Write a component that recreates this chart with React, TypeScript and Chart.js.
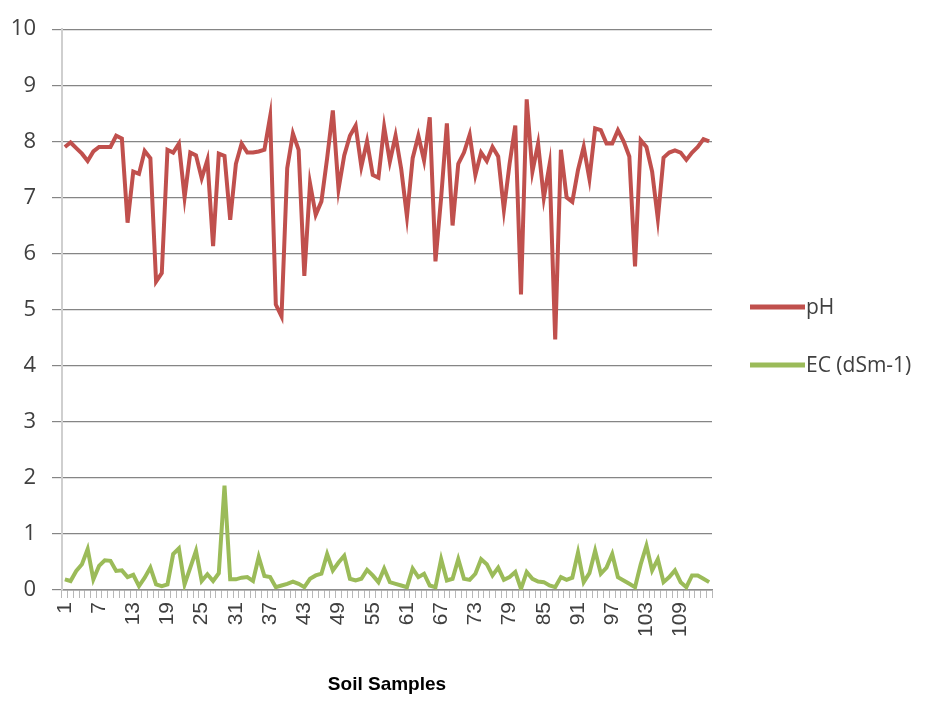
import React, { useEffect, useRef } from "react";
import { Chart, registerables } from "chart.js";

Chart.register(...registerables);

const categories: string[] = Array.from({ length: 114 }, (_, i) => String(i + 1));
const tickEvery = 6;

const phValues: number[] = [
  7.9, 7.98, 7.88, 7.78, 7.65, 7.82, 7.9, 7.9, 7.9, 8.1,
  8.05, 6.55, 7.46, 7.42, 7.83, 7.7, 5.5, 5.65, 7.85, 7.8,
  7.96, 7.0, 7.8, 7.75, 7.34, 7.67, 6.13, 7.78, 7.74, 6.6,
  7.6, 7.96, 7.8, 7.8, 7.82, 7.85, 8.44, 5.09, 4.88, 7.52,
  8.14, 7.85, 5.6, 7.25, 6.69, 6.93, 7.7, 8.55, 7.15, 7.75,
  8.1, 8.28, 7.55, 8.0, 7.4, 7.35, 8.26, 7.64, 8.1, 7.5,
  6.66, 7.7, 8.1, 7.66, 8.43, 5.86, 7.0, 8.32, 6.5, 7.6,
  7.8, 8.12, 7.4, 7.8, 7.65, 7.9, 7.73, 6.78, 7.6, 8.28,
  5.27, 8.75, 7.46, 7.96, 6.99, 7.58, 4.47, 7.85, 7.0, 6.92,
  7.49, 7.9, 7.33, 8.23, 8.2, 7.96, 7.96, 8.2, 8.0, 7.73,
  5.77, 8.02, 7.9, 7.46, 6.62, 7.71, 7.8, 7.84, 7.8, 7.67,
  7.8, 7.9, 8.04, 8.0,
];

const ecValues: number[] = [
  0.19, 0.16, 0.34, 0.46, 0.73, 0.19, 0.43, 0.53, 0.52, 0.34,
  0.35, 0.23, 0.27, 0.07, 0.22, 0.4, 0.1, 0.07, 0.1, 0.64,
  0.74, 0.1, 0.4, 0.7, 0.16, 0.28, 0.16, 0.3, 1.86, 0.19,
  0.19, 0.22, 0.23, 0.16, 0.59, 0.25, 0.23, 0.05, 0.08, 0.11,
  0.15, 0.11, 0.05, 0.2, 0.26, 0.29, 0.64, 0.35, 0.49, 0.61,
  0.2, 0.17, 0.2, 0.36, 0.26, 0.14, 0.38, 0.14, 0.11, 0.08,
  0.05, 0.38, 0.23, 0.29, 0.08, 0.05, 0.55, 0.17, 0.2, 0.55,
  0.2, 0.18, 0.29, 0.55, 0.46, 0.26, 0.4, 0.18, 0.23, 0.32,
  0.02, 0.32, 0.2, 0.15, 0.14, 0.08, 0.05, 0.23, 0.18, 0.22,
  0.67, 0.14, 0.3, 0.7, 0.29, 0.4, 0.64, 0.23, 0.17, 0.11,
  0.05, 0.46, 0.79, 0.35, 0.55, 0.14, 0.23, 0.35, 0.14, 0.05,
  0.26, 0.26, 0.2, 0.14,
];

const seriesLabels = ["pH", "EC (dSm-1)"];
const seriesColors = ["#C0504D", "#9BBB59"];
const xTitle = "Soil Samples";

const legendPlugin = {
  id: "sideLegend",
  afterDraw(chart: any) {
    const ctx = chart.ctx;
    const ys = [307, 365];
    ctx.save();
    chart.data.datasets.forEach((ds: any, i: number) => {
      const y = ys[i];
      ctx.strokeStyle = ds.borderColor;
      ctx.lineWidth = 5;
      ctx.lineCap = "butt";
      ctx.beginPath();
      ctx.moveTo(750, y);
      ctx.lineTo(805, y);
      ctx.stroke();
      ctx.fillStyle = "#404040";
      ctx.font = "21px 'Open Sans'";
      ctx.textAlign = "left";
      ctx.textBaseline = "middle";
      ctx.fillText(ds.label, 806, y + 1);
    });
    ctx.restore();
  },
};

export default function App() {
  const canvasRef = useRef<HTMLCanvasElement | null>(null);

  useEffect(() => {
    document.body.style.margin = "0";
    const canvas = canvasRef.current;
    if (!canvas) return;
    const chart = new Chart(canvas, {
      type: "line",
      data: {
        labels: categories,
        datasets: [
          {
            label: seriesLabels[0],
            data: phValues,
            borderColor: seriesColors[0],
            backgroundColor: seriesColors[0],
            borderWidth: 4,
            pointRadius: 0,
            tension: 0,
          },
          {
            label: seriesLabels[1],
            data: ecValues,
            borderColor: seriesColors[1],
            backgroundColor: seriesColors[1],
            borderWidth: 4,
            pointRadius: 0,
            tension: 0,
          },
        ],
      },
      options: {
        responsive: false,
        animation: false,
        layout: { padding: { left: 0, right: 218, top: 27, bottom: 0 } },
        plugins: {
          legend: { display: false },
          tooltip: { enabled: false },
        },
        scales: {
          x: {
            type: "category",
            offset: true,
            grid: {
              offset: true,
              drawOnChartArea: false,
              drawTicks: true,
              tickLength: 8,
              color: "#b8b8b8",
              lineWidth: 1,
            },
            border: { display: true, color: "#8c8c8c", width: 1.5 },
            ticks: {
              autoSkip: false,
              maxRotation: 90,
              minRotation: 90,
              padding: 4,
              color: "#404040",
              font: { family: "'Liberation Sans'", size: 21 },
              callback: (_v: any, idx: number) =>
                idx % tickEvery === 0 ? categories[idx] : "",
            },
            title: {
              display: true,
              text: xTitle,
              color: "#000000",
              font: { family: "'Liberation Sans'", size: 19, weight: "bold" },
              padding: { top: 4, bottom: 26 },
            },
            afterFit: (scale: any) => {
              scale.height = 132;
            },
          },
          y: {
            min: 0,
            max: 10,
            ticks: {
              stepSize: 1,
              padding: 16,
              color: "#404040",
              font: { family: "'Open Sans'", size: 22 },
            },
            grid: {
              color: "#858585",
              lineWidth: 1.2,
              drawTicks: true,
              tickLength: 10,
            },
            border: { display: true, color: "#cfcfcf", width: 2 },
            afterFit: (scale: any) => {
              scale.width = 62;
            },
          },
        },
      },
      plugins: [legendPlugin],
    } as any);
    return () => chart.destroy();
  }, []);

  return (
    <div style={{ width: 930, height: 722 }}>
      <canvas ref={canvasRef} width={930} height={722} style={{ display: "block" }} />
    </div>
  );
}
